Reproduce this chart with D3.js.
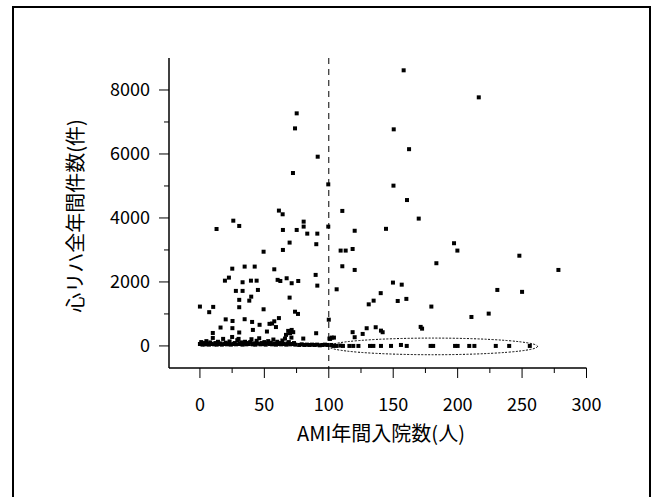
<!DOCTYPE html>
<html>
<head>
<meta charset="utf-8">
<script src="https://cdn.jsdelivr.net/npm/d3@7"></script>
<style>
  html, body { margin: 0; padding: 0; background: #fff; }
  svg { display: block; }
  text { font-family: "Noto Sans CJK JP", "Noto Sans", sans-serif; fill: #000; }
</style>
</head>
<body>
<svg id="chart" width="657" height="497"></svg>
<script>
// ---- data ----
const xTicks = [0, 50, 100, 150, 200, 250, 300];
const xMinorTicks = [25, 75, 125, 175, 225, 275];
const yTicks = [0, 2000, 4000, 6000, 8000];
const yMinorTicks = [1000, 3000, 5000, 7000];
const xTitle = "AMI年間入院数(人)";
const yTitle = "心リハ全年間件数(件)";
const cutoffX = 100;
// highlighted group (ellipse): centre x, half-width, centre y, half-height (data units)
const ellipseGroup = [181, 81, -15, 260];

// hospitals with < 100 AMI admissions: [AMI admissions, cardiac rehab cases]
const hospitalsLow = [
  [75.1,7270],[73.8,6800],[91.4,5915],[72.2,5405],[99.6,5050],[61.3,4230],[64.2,4115],
  [12.9,3655],[25.9,3915],[30.5,3750],[64.4,3625],[75.1,3625],[80.5,3885],[80.5,3730],
  [83.3,3510],[91.1,3510],[99.6,3730],[69.6,3230],[90.3,3180],[64.4,3000],[49.4,2945],
  [25.1,2415],[34.7,2480],[42.5,2480],[57.7,2395],[19.4,2040],[22.5,2135],[33.1,1990],
  [39.6,2040],[44,2040],[60.3,2065],[62.4,2030],[67.3,2115],[71.2,1960],[76.3,2030],
  [89.8,2220],[91.1,1885],[27.9,1720],[33.1,1720],[45,1750],[30.5,1440],[39.8,1540],
  [38.3,1415],[69.6,1510],[0,1230],[7.2,1055],[10.3,1220],[30.5,1210],[49.4,1145],
  [73.8,1070],[76.1,1000],[20,830],[25.3,780],[34.7,835],[40.5,750],[61.3,870],
  [57.7,770],[54,690],[56,700],[59,590],[46.3,660],[16,575],[25.2,555],[41.1,500],
  [10,405],[30.5,420],[52,450],[71.2,500],[72.4,430],[69.9,397],[68.5,470],[66.8,345],
  [90.2,397],[80.2,230],[100,820],[100.5,230]
];
// dense row of hospitals with very few rehab cases
const hospitalsLowBase = [
  [0,60],[1,120],[2,40],[3,90],[4,50],[5,150],[6,70],[7,40],[8,110],[9,60],[10,250],
  [11,50],[12,90],[13,40],[14,130],[15,60],[16,80],[17,40],[18,220],[19,60],[20,100],
  [21,50],[22,70],[23,140],[24,40],[25,280],[26,60],[27,90],[28,50],[29,180],[30,220],
  [31,60],[32,110],[33,40],[34,70],[35,130],[36,50],[37,90],[38,60],[39,120],[40,210],
  [41,50],[42,80],[43,40],[44,160],[45,70],[46,240],[47,50],[48,90],[49,60],[50,120],
  [51,40],[52,80],[53,150],[54,60],[55,100],[56,50],[57,200],[58,70],[59,40],[60,130],
  [61,60],[62,90],[63,50],[64,170],[65,60],[66,230],[67,40],[68,80],[69,120],[70,50],
  [71,260],[72,60],[73,90],[74,40],[77,30],[79,50],[81,30],[83,40],[85,30],[87,40],
  [89,30],[91,40],[93,20],[95,30],[97,40],[99,30]
];
// hospitals with >= 100 AMI admissions
const hospitalsHigh = [
  [158.1,8615],[216.4,7770],[150.4,6770],[162.3,6150],[150.2,5010],[160.7,4560],
  [110.5,4220],[169.8,3980],[120.1,3600],[144.4,3660],[197.2,3210],[199.8,2980],
  [247.9,2820],[109.2,2980],[113.1,2980],[118.5,3030],[110.5,2490],[120.1,2375],
  [183.5,2585],[278.2,2375],[106.1,1770],[149.8,1980],[156.6,1915],[140.3,1650],
  [230.8,1750],[250,1690],[134.8,1415],[131,1300],[153.5,1405],[160.2,1470],
  [179.6,1230],[210.7,905],[224.1,1010],[171.3,595],[172.4,540],[129.4,553],
  [136.4,584],[140.5,478],[141.8,428],[126.3,375],[118.5,430],[120.1,272],
  [102.3,260],[104,260],[101,220]
];
const hospitalsHighBase = [
  [102,30],[103.5,0],[106,0],[109,10],[111,0],[116,0],[119,0],[123,0],[132,0],
  [134.6,0],[140.5,0],[148.3,0],[156,30],[160.5,0],[179,0],[181,0],[198,0],[200,0],
  [209,0],[213,0],[229.6,0],[240,0],[256,0]
];

// ---- chart ----
const svg = d3.select("#chart");
const x = d3.scaleLinear().domain([-24, 300]).range([169, 586.5]);
const y = d3.scaleLinear().domain([-690, 9000]).range([368, 58]);

// outer frame
svg.append("rect").attr("x", 13).attr("y", 7).attr("width", 637).attr("height", 500)
  .attr("fill", "none").attr("stroke", "#000").attr("stroke-width", 2);

// axes
const yAxisLine = svg.append("line").attr("x1", x(-24)).attr("x2", x(-24))
  .attr("y1", y(9000)).attr("y2", y(-690)).attr("stroke", "#000").attr("stroke-width", 1.5);
svg.append("line").attr("x1", x(-24)).attr("x2", x(300))
  .attr("y1", y(-690)).attr("y2", y(-690)).attr("stroke", "#000").attr("stroke-width", 1.5);

const gy = svg.append("g").attr("transform", `translate(${x(-24)},0)`);
gy.selectAll(".maj").data(yTicks).join("line")
  .attr("x1", 0).attr("x2", -10).attr("y1", d => y(d)).attr("y2", d => y(d))
  .attr("stroke", "#000").attr("stroke-width", 1);
gy.selectAll(".min").data(yMinorTicks).join("line")
  .attr("x1", 0).attr("x2", -5).attr("y1", d => y(d)).attr("y2", d => y(d))
  .attr("stroke", "#000").attr("stroke-width", 1);
gy.selectAll("text").data(yTicks).join("text")
  .attr("x", -19).attr("y", d => y(d)).attr("dy", "0.36em")
  .attr("text-anchor", "end").attr("font-size", 18).text(d => d);

const gx = svg.append("g").attr("transform", `translate(0,${y(-690)})`);
gx.selectAll(".maj").data(xTicks).join("line")
  .attr("x1", d => x(d)).attr("x2", d => x(d)).attr("y1", 0).attr("y2", 10)
  .attr("stroke", "#000").attr("stroke-width", 1);
gx.selectAll(".min").data(xMinorTicks).join("line")
  .attr("x1", d => x(d)).attr("x2", d => x(d)).attr("y1", 0).attr("y2", 5)
  .attr("stroke", "#000").attr("stroke-width", 1);
gx.selectAll("text").data(xTicks).join("text")
  .attr("x", d => x(d)).attr("y", 43)
  .attr("text-anchor", "middle").attr("font-size", 18).text(d => d);

// titles
svg.append("text").attr("x", 381).attr("y", 441).attr("text-anchor", "middle")
  .attr("font-size", 20).text(xTitle);
svg.append("text").attr("transform", "translate(83,216) rotate(-90)")
  .attr("text-anchor", "middle").attr("font-size", 20).text(yTitle);

// cutoff line
svg.append("line").attr("x1", x(cutoffX)).attr("x2", x(cutoffX))
  .attr("y1", y(9000)).attr("y2", y(-690))
  .attr("stroke", "#000").attr("stroke-width", 1).attr("stroke-dasharray", "6,5");

// points
const all = hospitalsLow.concat(hospitalsLowBase, hospitalsHigh, hospitalsHighBase);
svg.append("g").selectAll("rect").data(all).join("rect")
  .attr("x", d => x(d[0]) - 2).attr("y", d => y(d[1]) - 2)
  .attr("width", 4).attr("height", 4).attr("fill", "#000");

// ellipse
const [ecx, erx, ecy, ery] = ellipseGroup;
svg.append("ellipse")
  .attr("cx", x(ecx)).attr("cy", y(ecy))
  .attr("rx", x(ecx + erx) - x(ecx)).attr("ry", y(ecy - ery) - y(ecy))
  .attr("fill", "none").attr("stroke", "#000").attr("stroke-width", 1)
  .attr("stroke-dasharray", "2,1.5");
</script>
</body>
</html>
